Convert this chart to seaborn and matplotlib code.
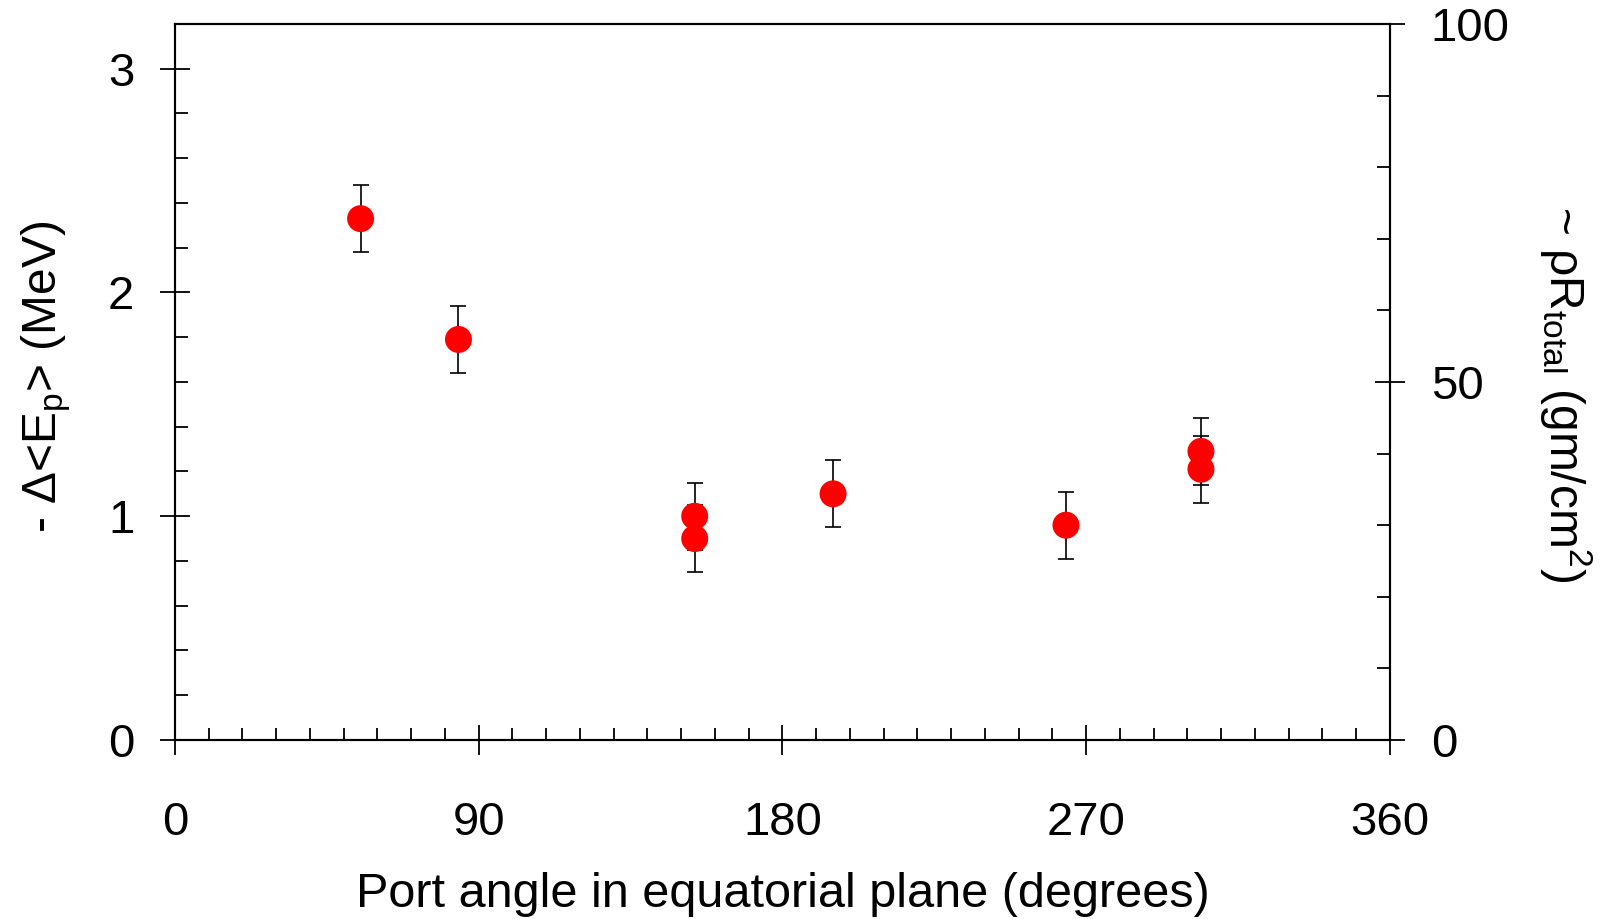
import matplotlib
matplotlib.use('Agg')
import matplotlib.pyplot as plt
from matplotlib.ticker import MultipleLocator
import pandas as pd
import seaborn as sns

# values
angle = [55, 84, 154, 154, 195, 264, 304, 304]
delta_e = [2.33, 1.79, 1.00, 0.90, 1.10, 0.96, 1.29, 1.21]
delta_e_err = [0.15, 0.15, 0.15, 0.15, 0.15, 0.15, 0.15, 0.15]
x_ticks = [0, 90, 180, 270, 360]
left_ticks = [0, 1, 2, 3]
right_ticks = [0, 50, 100]

df = pd.DataFrame({'angle': angle, 'dE': delta_e, 'err': delta_e_err})

sns.set_style('ticks')
plt.rcParams['font.family'] = ['Liberation Sans', 'DejaVu Sans']
plt.rcParams['mathtext.fontset'] = 'custom'
plt.rcParams['mathtext.rm'] = 'Liberation Sans'
plt.rcParams['mathtext.it'] = 'Liberation Sans:italic'
plt.rcParams['mathtext.default'] = 'regular'
plt.rcParams['axes.edgecolor'] = 'black'
plt.rcParams['xtick.color'] = 'black'
plt.rcParams['ytick.color'] = 'black'
plt.rcParams['text.color'] = 'black'
plt.rcParams['axes.labelcolor'] = 'black'

fig = plt.figure(figsize=(16.08, 9.19), dpi=100)
ax = fig.add_axes([0.1088, 0.1948, 0.7556, 0.7791])

ax.errorbar(df['angle'], df['dE'], yerr=df['err'], fmt='none', ecolor='black',
            elinewidth=1.2, capsize=5.5, capthick=1.2, zorder=2)
sns.scatterplot(data=df, x='angle', y='dE', s=377, color='#ff0000',
                edgecolor='none', linewidth=0, ax=ax, zorder=3, legend=False)

ax.set_xlim(0, 360)
ax.set_ylim(0, 3.2)
ax.set_xticks(x_ticks)
ax.set_yticks(left_ticks)
ax.xaxis.set_minor_locator(MultipleLocator(10))
ax.yaxis.set_minor_locator(MultipleLocator(0.2))

for s in ax.spines.values():
    s.set_linewidth(1.5)

ax.tick_params(axis='x', which='major', direction='inout', length=21, width=1.3,
               labelsize=34, pad=33.5)
ax.tick_params(axis='x', which='minor', direction='in', length=8.6, width=1.3)
ax.tick_params(axis='y', which='major', direction='inout', length=21.6, width=1.3,
               labelsize=34, pad=18.5)
ax.tick_params(axis='y', which='minor', direction='in', length=9.4, width=1.3)

ax.set_xlabel('Port angle in equatorial plane (degrees)', fontsize=35)
ax.xaxis.set_label_coords(0.5, -0.185)
ax.set_ylabel(r'- Δ<E$_{p}$> (MeV)', fontsize=34.5, va='center', ha='center')
ax.yaxis.set_label_coords(-0.106, 0.507)

ax2 = ax.twinx()
ax2.set_ylim(0, 100)
ax2.set_yticks(right_ticks)
ax2.yaxis.set_minor_locator(MultipleLocator(10))
for s in ax2.spines.values():
    s.set_linewidth(1.5)
ax2.tick_params(axis='y', which='major', direction='inout', length=21.6, width=1.3,
                labelsize=34, pad=18.5)
ax2.tick_params(axis='y', which='minor', direction='in', length=9.4, width=1.3)
ax2.set_ylabel(r'~ ρR$_{total}$ (gm/cm$^{2}$)', fontsize=34.5, rotation=270,
               va='center', ha='center')
ax2.yaxis.set_label_coords(1.145, 0.483)

fig.savefig('out.png', dpi=100)
